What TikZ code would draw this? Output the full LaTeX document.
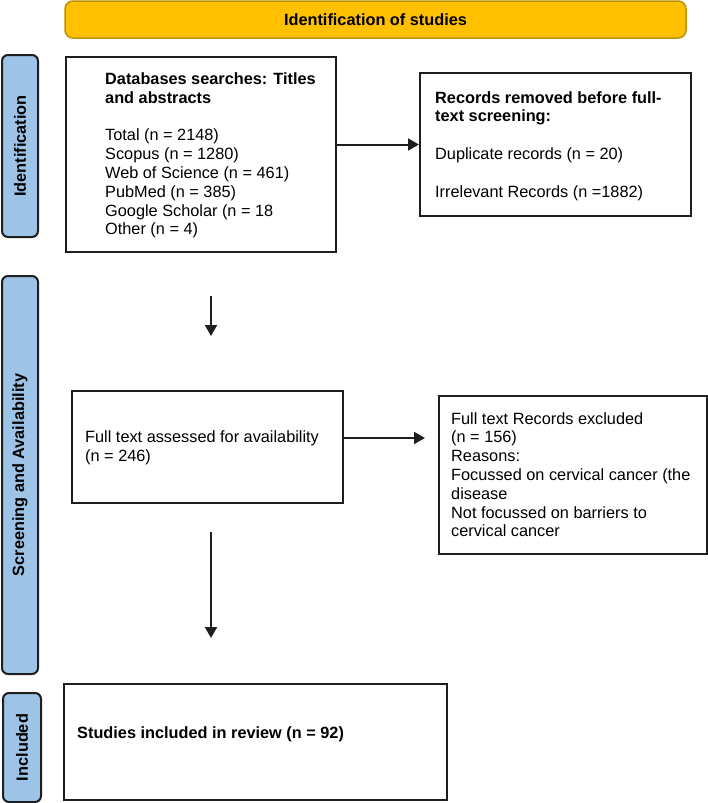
\documentclass[tikz,border=0pt]{standalone}
\usepackage{fontspec}
\setmainfont{Liberation Sans}
\usetikzlibrary{arrows.meta,calc}
\definecolor{bannerfill}{RGB}{255,192,0}
\definecolor{bannerline}{RGB}{191,144,0}
\definecolor{barfill}{RGB}{157,195,230}
\definecolor{lineblack}{RGB}{30,30,30}
\begin{document}
\begin{tikzpicture}[x=1pt,y=-1pt,
  every node/.style={font=\fontsize{16.3}{18.8}\selectfont},
  box/.style={draw=lineblack, line width=2pt, rectangle, inner sep=0pt, anchor=north west},
  txt/.style={inner sep=0pt, align=left, anchor=north west, text=black},
  sidebar/.style={draw=lineblack, line width=2pt, fill=barfill, rounded corners=6pt, rotate=90, inner sep=0pt,
                  font=\fontsize{16.3}{18.8}\selectfont\bfseries, text=black},
  banner/.style={draw=bannerline, line width=1.5pt, fill=bannerfill, rounded corners=8pt, inner sep=0pt,
                 font=\fontsize{16.3}{18.8}\selectfont\bfseries},
  arr/.style={draw=lineblack, line width=2pt, -{Triangle[length=11pt,width=12pt]}}]
\useasboundingbox (0,0) rectangle (708,803);

% banner
\node[banner, minimum width=621pt, minimum height=37pt] (top) at (375.5,19.5) {Identification of studies};

% side bars
\node[sidebar, minimum width=182pt, minimum height=36pt] (s1) at (20,146) {Identification};
\node[sidebar, minimum width=398pt, minimum height=36pt] (s2) at (20,475) {Screening and Availability};
\node[sidebar, minimum width=109pt, minimum height=38pt] (s3) at (22,747.5) {Included};

% boxes
\node[box, minimum width=270pt, minimum height=195pt] (b1) at (65,56) {};
\node[box, minimum width=271pt, minimum height=143pt] (b2) at (419,72) {};
\node[box, minimum width=271pt, minimum height=112pt] (b3) at (71,390) {};
\node[box, minimum width=268pt, minimum height=158pt] (b4) at (438,395) {};
\node[box, minimum width=383pt, minimum height=116pt] (b5) at (63,683) {};

% texts
\node[txt] (b1t) at (105,72.5) {\textbf{Databases searches: Titles}\\\textbf{and abstracts}\\[18.8pt]Total (n = 2148)\\Scopus (n = 1280)\\Web of Science (n = 461)\\PubMed (n = 385)\\Google Scholar (n = 18\\Other (n = 4)};
\node[txt] (b2t) at (435,91) {\textbf{Records removed before full-}\\\textbf{text screening:}\\[18.8pt]Duplicate records (n = 20)\\[18.8pt]Irrelevant Records (n =1882)};
\node[txt] (b3t) at (85,430.5) {Full text assessed for availability\\(n = 246)};
\node[txt] (b4t) at (451,412) {Full text Records excluded\\(n = 156)\\Reasons:\\Focussed on cervical cancer (the\\disease\\Not focussed on barriers to\\cervical cancer};
\node[txt] (b5t) at (77,726.5) {\textbf{Studies included in review (n = 92)}};

% connectors
\draw[arr] (b1.east |- b2.west) -- (b2.west);
\draw[arr, shorten >=13pt] ([yshift=9pt]b3.east) -- ([yshift=9pt]b3.east -| b4.west);
\coordinate (d1s) at (211,296);
\coordinate (d1e) at (211,336);
\coordinate (d2s) at (211,532);
\coordinate (d2e) at (211,638);
\draw[arr] (d1s) -- (d1e);
\draw[arr] (d2s) -- (d2e);
\end{tikzpicture}
\end{document}
